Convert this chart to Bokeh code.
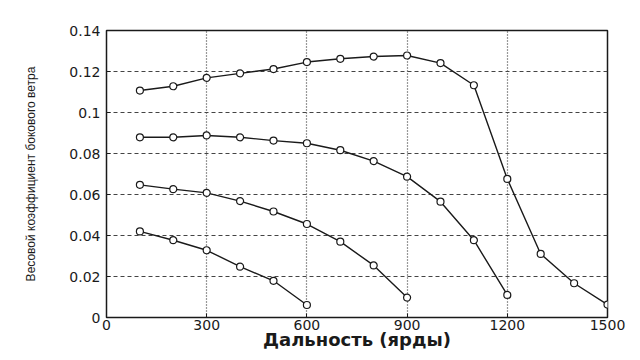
from bokeh.plotting import figure
from bokeh.models import FixedTicker, Range1d
from bokeh.embed import file_html
from bokeh.resources import INLINE

# Data
x1 = [100, 200, 300, 400, 500, 600, 700, 800, 900, 1000, 1100, 1200, 1300, 1400, 1500]
y1 = [0.1107, 0.1128, 0.1169, 0.1191, 0.1212, 0.1246, 0.1262, 0.1273, 0.1278, 0.1241, 0.1133, 0.0676, 0.0310, 0.0167, 0.0063]

x2 = [100, 200, 300, 400, 500, 600, 700, 800, 900, 1000, 1100, 1200]
y2 = [0.0879, 0.0879, 0.0888, 0.0879, 0.0863, 0.0850, 0.0816, 0.0763, 0.0687, 0.0565, 0.0377, 0.0110]

x3 = [100, 200, 300, 400, 500, 600, 700, 800, 900]
y3 = [0.0647, 0.0626, 0.0608, 0.0568, 0.0517, 0.0456, 0.0370, 0.0254, 0.0097]

x4 = [100, 200, 300, 400, 500, 600]
y4 = [0.0420, 0.0377, 0.0328, 0.0248, 0.0179, 0.0061]

x_ticks = [0, 300, 600, 900, 1200, 1500]
y_ticks = [0, 0.02, 0.04, 0.06, 0.08, 0.1, 0.12, 0.14]
y_tick_labels = ["0", "0.02", "0.04", "0.06", "0.08", "0.1", "0.12", "0.14"]

x_title = "Дальность (ярды)"
y_title = "Весовой коэффициент бокового ветра"

INK = "#1a1a1a"

p = figure(width=632, height=352, output_backend="svg", toolbar_location=None,
           x_range=Range1d(0, 1500), y_range=Range1d(0, 0.14),
           min_border_left=106, min_border_right=25, min_border_top=30, min_border_bottom=32)

p.background_fill_color = "white"
p.border_fill_color = "white"
p.outline_line_color = INK
p.outline_line_width = 1.5

# grid
p.xgrid.ticker = FixedTicker(ticks=x_ticks)
p.ygrid.ticker = FixedTicker(ticks=y_ticks)
p.xgrid.grid_line_color = "#333333"
p.xgrid.grid_line_dash = "1 2"
p.xgrid.grid_line_width = 1.2
p.ygrid.grid_line_color = "#444444"
p.ygrid.grid_line_dash = "4 3"
p.ygrid.grid_line_width = 1.0

# axes
xa = p.xaxis[0]
xa.ticker = FixedTicker(ticks=x_ticks)
xa.axis_label = x_title
xa.axis_label_text_font = "DejaVu Sans"
xa.axis_label_text_font_style = "bold"
xa.axis_label_text_font_size = "18px"
xa.axis_label_text_color = INK
xa.axis_label_standoff = -4
xa.major_label_text_font = "DejaVu Sans"
xa.major_label_text_font_size = "14px"
xa.major_label_text_color = INK
xa.major_label_standoff = 2

ya = p.yaxis[0]
ya.ticker = FixedTicker(ticks=y_ticks)
ya.major_label_overrides = {t: s for t, s in zip(y_ticks, y_tick_labels)}
ya.axis_label = y_title
ya.axis_label_text_font = "Liberation Sans"
ya.axis_label_text_font_style = "normal"
ya.axis_label_text_font_size = "12px"
ya.axis_label_text_color = INK
ya.axis_label_standoff = 28
ya.major_label_text_font = "DejaVu Sans"
ya.major_label_text_font_size = "14px"
ya.major_label_text_color = INK
ya.major_label_standoff = 6

for ax in (xa, ya):
    ax.axis_line_color = None
    ax.major_tick_in = 4
    ax.major_tick_out = 0
    ax.major_tick_line_color = INK
    ax.minor_tick_line_color = None

for xs, ys in ((x1, y1), (x2, y2), (x3, y3), (x4, y4)):
    p.line(xs, ys, line_color=INK, line_width=1.4)
    p.scatter(xs, ys, marker="circle", size=7, fill_color="white",
              line_color=INK, line_width=1.2)

open("out.html", "w").write(file_html(p, INLINE))
